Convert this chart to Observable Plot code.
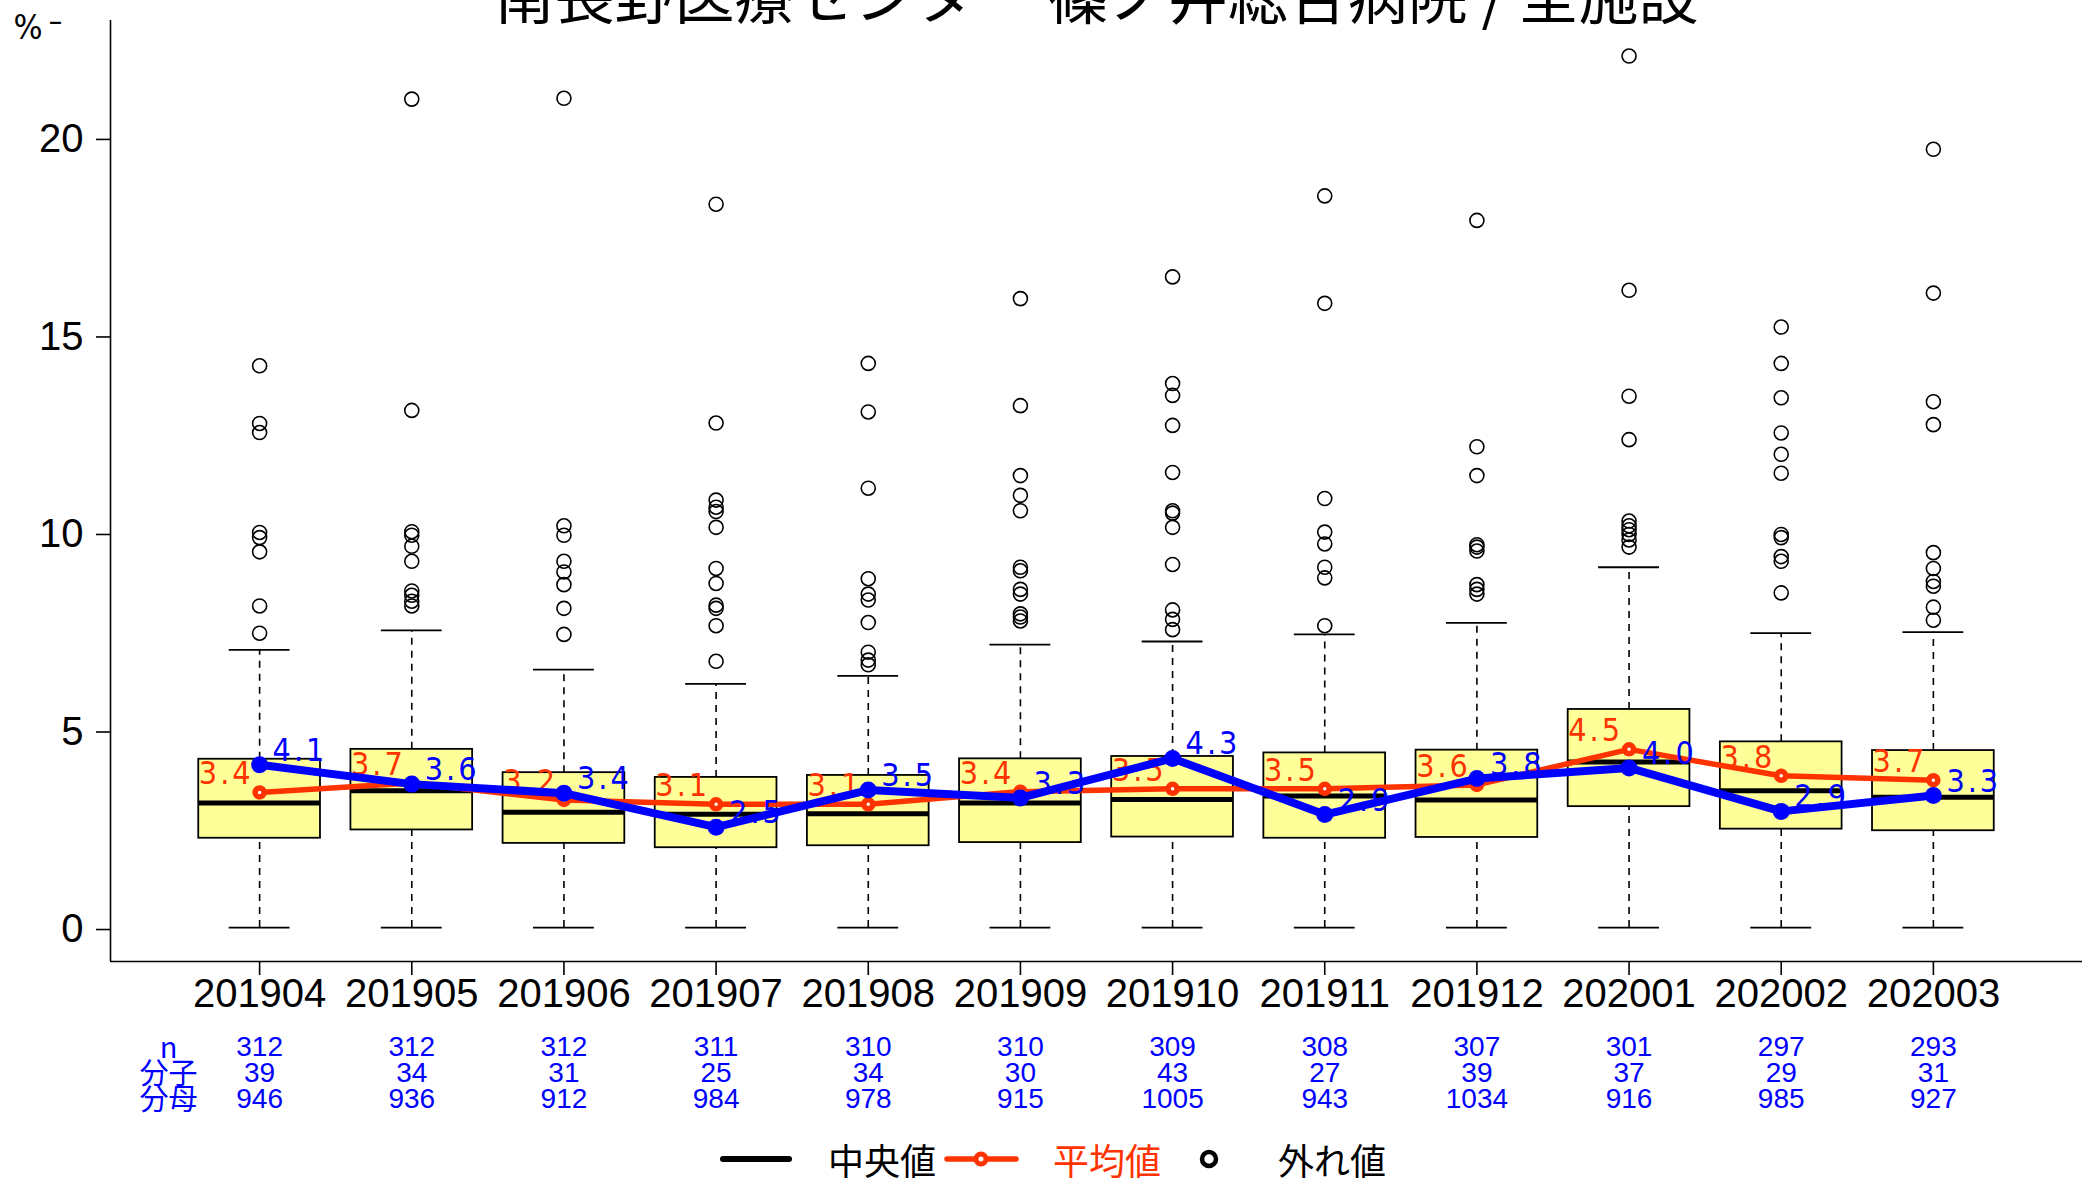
<!DOCTYPE html>
<html><head><meta charset="utf-8">
<script src="https://cdn.jsdelivr.net/npm/d3@7"></script>
<script src="https://cdn.jsdelivr.net/npm/@observablehq/plot@0.6"></script>
<style>
html,body{margin:0;padding:0;background:#fff;overflow:hidden;width:2089px;height:1183px}
#chart svg{display:block}
#legend{display:flex;align-items:center;height:58px;width:2089px;box-sizing:border-box;padding-left:720px;font-family:"Noto Sans CJK JP","Noto Sans";font-size:36px;line-height:1}
#legend span{display:block;flex:none}
#legend svg{display:block}
</style></head><body>
<div id="chart"></div>
<div id="legend"></div>
<script>
const title = "南長野医療センター 篠ノ井総合病院 / 全施設";
const months = ["201904","201905","201906","201907","201908","201909","201910","201911","201912","202001","202002","202003"];
const q1 = [2.26, 2.47, 2.13, 2.02, 2.07, 2.15, 2.29, 2.26, 2.28, 3.06, 2.49, 2.45];
const median = [3.15, 3.46, 2.92, 2.87, 2.88, 3.15, 3.24, 3.33, 3.23, 4.19, 3.46, 3.30];
const q3 = [4.26, 4.51, 3.92, 3.80, 3.85, 4.27, 4.33, 4.42, 4.49, 5.52, 4.70, 4.48];
const whiskerLow = [0, 0, 0, 0, 0, 0, 0, 0, 0, 0, 0, 0];
const whiskerHigh = [7.03, 7.52, 6.53, 6.17, 6.37, 7.16, 7.24, 7.42, 7.71, 9.12, 7.45, 7.48];
const means = [3.42, 3.66, 3.23, 3.12, 3.12, 3.44, 3.51, 3.51, 3.61, 4.51, 3.84, 3.73];
const facility = [4.12, 3.63, 3.40, 2.54, 3.48, 3.28, 4.28, 2.86, 3.77, 4.04, 2.94, 3.34];
const nCount = [312, 312, 312, 311, 310, 310, 309, 308, 307, 301, 297, 293];
const numerator = [39, 34, 31, 25, 34, 30, 43, 27, 39, 37, 29, 31];
const denominator = [946, 936, 912, 984, 978, 915, 1005, 943, 1034, 916, 985, 927];
const outliers = [
  [7.45, 8.14, 9.51, 9.87, 10.0, 12.53, 12.76, 14.22],
  [8.14, 8.26, 8.41, 8.52, 9.27, 9.65, 9.93, 10.02, 13.09, 20.97],
  [7.42, 8.08, 8.68, 9.00, 9.27, 9.93, 10.17, 20.99],
  [6.74, 7.64, 8.08, 8.16, 8.71, 9.09, 10.13, 10.53, 10.64, 10.82, 12.77, 18.31],
  [6.65, 6.77, 6.97, 7.72, 8.29, 8.44, 8.83, 11.12, 13.05, 14.28],
  [7.76, 7.86, 7.94, 8.44, 8.56, 9.03, 9.12, 10.55, 10.94, 11.44, 13.21, 15.92],
  [7.54, 7.80, 8.04, 9.19, 10.13, 10.49, 10.55, 11.52, 12.71, 13.47, 13.77, 16.47],
  [7.64, 8.85, 9.12, 9.71, 10.01, 10.86, 15.80, 18.52],
  [8.44, 8.56, 8.68, 9.53, 9.63, 9.69, 11.44, 12.17, 17.90],
  [9.63, 9.81, 9.95, 10.07, 10.17, 10.29, 12.35, 13.45, 16.13, 22.06],
  [8.47, 9.27, 9.39, 9.87, 9.95, 11.50, 11.98, 12.52, 13.41, 14.28, 15.20],
  [7.78, 8.11, 8.64, 8.76, 9.09, 9.49, 12.73, 13.31, 16.06, 19.70]
];
const yTicks = [0, 5, 10, 15, 20];
const rowLabels = ["n", "分子", "分母"];
const legendLabels = ["中央値", "平均値", "外れ値"];
const unitLabel = "%";

const xDomain = [0.02, 12.98];
const yDomain = [-0.86, 22.96];
const boxHalf = 0.4, stapleHalf = 0.2;
const RED = "#ff3300", BLUE = "#0000ff", BOX = "#ffff99";
const LABEL_SIZE = 32;
const CONDENSED = "DejaVu Sans Condensed, DejaVu Sans, sans-serif";

const rows = months.map((m, k) => ({
  i: k + 1, month: m, q1: q1[k], med: median[k], q3: q3[k], lo: whiskerLow[k], hi: whiskerHigh[k],
  mean: means[k], fac: facility[k], n: nCount[k], num: numerator[k], den: denominator[k]
}));
const outlierRows = outliers.flatMap((arr, k) => arr.map(v => ({i: k + 1, v})));
const rowDy = [86, 112, 138];
const rowKeys = ["n", "num", "den"];

const plot = Plot.plot({
  width: 2089, height: 1130,
  marginLeft: 110, marginRight: 7, marginTop: 20, marginBottom: 169,
  x: {domain: xDomain, axis: null},
  y: {domain: yDomain, axis: null},
  style: {fontFamily: "Liberation Sans, Arial, sans-serif", background: "white", color: "black"},
  marks: [
    Plot.ruleX(rows, {x: "i", y1: "q3", y2: "hi", stroke: "black", strokeWidth: 1.6, strokeDasharray: "7,6"}),
    Plot.ruleX(rows, {x: "i", y1: "lo", y2: "q1", stroke: "black", strokeWidth: 1.6, strokeDasharray: "7,6"}),
    Plot.ruleY(rows, {y: "hi", x1: d => d.i - stapleHalf, x2: d => d.i + stapleHalf, stroke: "black", strokeWidth: 1.8}),
    Plot.ruleY(rows, {y: "lo", x1: d => d.i - stapleHalf, x2: d => d.i + stapleHalf, stroke: "black", strokeWidth: 1.8}),
    Plot.rect(rows, {x1: d => d.i - boxHalf, x2: d => d.i + boxHalf, y1: "q1", y2: "q3", fill: BOX, stroke: "black", strokeWidth: 1.8}),
    Plot.ruleY(rows, {y: "med", x1: d => d.i - boxHalf, x2: d => d.i + boxHalf, stroke: "black", strokeWidth: 5}),
    Plot.dot(outlierRows, {x: "i", y: "v", r: 7, stroke: "black", strokeWidth: 1.6, fill: "none"}),
    Plot.line(rows, {x: "i", y: "mean", stroke: RED, strokeWidth: 5.5}),
    Plot.dot(rows, {x: "i", y: "mean", r: 4.5, stroke: RED, strokeWidth: 5.5, fill: "white"}),
    Plot.text(rows, {x: "i", y: "mean", text: d => d.mean.toFixed(1), textAnchor: "end", lineAnchor: "bottom",
      dx: -6, dy: -8, fill: RED, fontSize: LABEL_SIZE, fontFamily: CONDENSED}),
    Plot.line(rows, {x: "i", y: "fac", stroke: BLUE, strokeWidth: 8}),
    Plot.dot(rows, {x: "i", y: "fac", r: 8.5, fill: BLUE}),
    Plot.text(rows, {x: "i", y: "fac", text: d => d.fac.toFixed(1), textAnchor: "start", lineAnchor: "bottom",
      dx: 13, dy: -4, fill: BLUE, fontSize: LABEL_SIZE, fontFamily: CONDENSED}),
    Plot.ruleX([xDomain[0]], {stroke: "black", strokeWidth: 1.6}),
    Plot.ruleY([yDomain[0]], {stroke: "black", strokeWidth: 1.6}),
    Plot.axisY({ticks: yTicks, tickSize: 14, tickPadding: 13, fontSize: 40, label: null, dy: 2, strokeWidth: 1.6}),
    Plot.axisX({ticks: rows.map(d => d.i), tickFormat: i => months[i - 1], tickSize: 14, tickPadding: 3, fontSize: 40, label: null, strokeWidth: 1.6}),
    ...rowKeys.map((key, r) => Plot.text(rows, {x: "i", frameAnchor: "bottom", text: d => String(d[key]), dy: rowDy[r],
      lineAnchor: "middle", fill: BLUE, fontSize: 28})),
    ...rowLabels.map((lab, r) => Plot.text([lab], {text: d => d, frameAnchor: "bottom-left", textAnchor: "middle", dx: 58, dy: rowDy[r] + 1,
      fill: BLUE, fontSize: 29, fontFamily: "Noto Sans CJK JP", lineAnchor: "middle"})),
    Plot.text([title], {text: d => d, frameAnchor: "top", dy: -2, lineAnchor: "bottom", fontSize: 60, fontFamily: "Noto Sans CJK JP"}),
    Plot.text([unitLabel], {text: d => d, frameAnchor: "top-left", textAnchor: "start", dx: -97, dy: 8, lineAnchor: "middle", fontSize: 34, fontFamily: CONDENSED}),
    Plot.text(["\u2013"], {text: d => d, frameAnchor: "top-left", textAnchor: "middle", dx: -55, dy: 1, lineAnchor: "middle", fontSize: 30, fontFamily: CONDENSED})
  ]
});
// condensed face with wider tracking on the value labels, as in the reference
plot.querySelectorAll(`g[font-size="${LABEL_SIZE}"]`).forEach(g => {
  g.setAttribute("letter-spacing", "3");
  g.style.fontStretch = "condensed";
});
document.getElementById("chart").appendChild(plot);

// legend
const lg = document.getElementById("legend");
lg.innerHTML = `
<span style="width:72px;height:6px;background:black;border-radius:3px"></span>
<span style="margin-left:36px;color:black">${legendLabels[0]}</span>
<span style="margin-left:8px"><svg width="75" height="22"><line x1="3" y1="11" x2="72" y2="11" stroke="${RED}" stroke-width="5.5" stroke-linecap="round"/><circle cx="37" cy="11" r="5" fill="white" stroke="${RED}" stroke-width="5"/></svg></span>
<span style="margin-left:34px;color:${RED}">${legendLabels[1]}</span>
<span style="margin-left:37px"><svg width="22" height="22"><circle cx="11" cy="11" r="7" fill="none" stroke="black" stroke-width="4.5"/></svg></span>
<span style="margin-left:58px;color:black">${legendLabels[2]}</span>`;
</script>
</body></html>
